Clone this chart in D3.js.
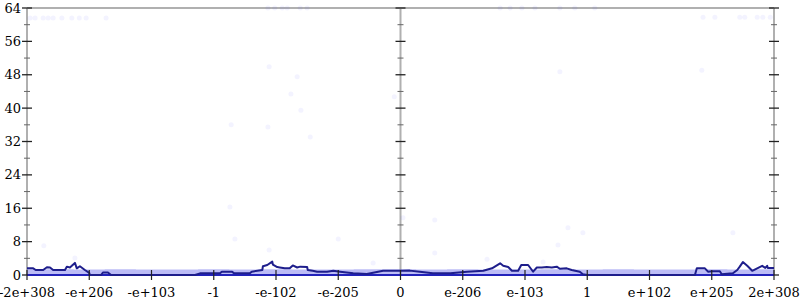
<!DOCTYPE html>
<html><head><meta charset="utf-8">
<script src="https://cdn.jsdelivr.net/npm/d3@7"></script>
<style>body{margin:0;background:#fff}svg{display:block}text{font-family:"DejaVu Serif",serif;font-size:13px;fill:#000}</style>
</head><body><svg id="c" width="800" height="300"></svg>
<script>
// x positions are in "tick units": -6 .. 6 (each unit one labelled tick)
const xTickValues = [-6,-5,-4,-3,-2,-1,0,1,2,3,4,5,6];
const xTickLabels = ["-2e+308","-e+206","-e+103","-1","-e-102","-e-205","0","e-206","e-103","1","e+102","e+205","2e+308"];
const yMajorTicks = [0,8,16,24,32,40,48,56,64];
const yMinorTicks = [4,12,20,28,36,44,52,60];
const yAxisPositions = [-6,0,6];

// main line series
const lineX = [-6.00,-5.90,-5.86,-5.74,-5.68,-5.63,-5.58,-5.39,-5.36,-5.31,-5.28,-5.23,-5.20,-5.15,-5.07,-5.00,-4.99,-4.81,-4.78,-4.70,-4.65,-3.30,-3.22,-2.90,-2.87,-2.71,-2.67,-2.42,-2.39,-2.22,-2.21,-2.14,-2.06,-2.05,-1.98,-1.94,-1.86,-1.78,-1.73,-1.66,-1.61,-1.50,-1.49,-1.41,-1.34,-1.18,-1.08,-0.97,-0.76,-0.54,-0.28,0.00,0.15,0.31,0.52,0.80,1.07,1.33,1.47,1.60,1.65,1.73,1.79,1.89,1.94,2.05,2.11,2.13,2.19,2.27,2.35,2.43,2.51,2.56,2.67,2.75,2.88,2.93,3.00,4.73,4.76,4.89,4.94,5.00,5.13,5.16,5.34,5.41,5.45,5.50,5.57,5.65,5.73,5.81,5.86,5.89,5.90,6.00];
const lineY = [1.6,1.6,1.2,1.2,1.85,1.8,1.2,1.2,2.0,1.8,2.2,2.9,1.6,2.1,1.2,0.5,0,0,0.6,0.6,0,0,0.4,0.4,0.8,0.8,0.4,0.4,0.8,1.2,2.1,2.4,3.2,2.5,1.9,1.8,1.6,1.6,2.3,1.8,2.0,1.9,1.2,1.0,0.8,0.8,1.0,0.8,0.4,0.25,1.0,1.0,1.05,0.8,0.4,0.4,0.8,1.0,1.6,2.8,2.2,1.9,1.0,1.0,2.4,2.4,1.2,0.8,1.8,1.8,1.9,1.8,2.0,1.5,1.6,1.2,0.8,0.2,0,0,1.6,1.6,0.8,0.9,0.9,0.2,0.4,1.2,2.0,3.1,2.2,1.0,1.6,2.2,1.7,2.2,1.7,1.7];

// lower series (sits on zero)
const lowX = [-6,-3,0,3,6];
const lowY = [0,0,0,0,0];

// dense band of low values
const bandX = [-6,-5.5,-5,-4.5,-4,-3.5,-3,-2.5,-2,-1.5,-1,-0.5,0,0.5,1,1.5,2,2.5,3,3.5,4,4.5,5,5.5,6];
const bandY = [1.4,1.4,1.3,1.4,1.3,1.3,1.4,1.3,1.4,1.3,1.3,1.4,1.4,1.3,1.4,1.3,1.3,1.4,1.3,1.4,1.3,1.3,1.4,1.3,1.4];

// sparse points
const ptX = [-5.95,-5.87,-5.74,-5.66,-5.58,-5.44,-5.28,-5.16,-5.05,-4.73,4.86,5.05,5.45,5.53,5.73,5.82,5.94,-2.13,-2.02,-1.90,-1.82,-1.61,-1.50,1.60,1.76,1.95,2.16,2.56,2.80,3.12,-2.11,-1.66,-1.76,-1.60,-2.72,-2.13,-1.45,-0.10,4.84,2.56,0.04,0.55,0.55,1.39,2.69,2.93,2.53,2.29,-2.74,-2.66,-2.11,-1.00,-0.44,-5.73,-5.23,5.34];
const ptY = [61.6,61.6,61.6,61.6,61.6,61.6,61.6,61.6,61.6,61.6,61.8,61.8,61.8,61.8,61.8,61.8,61.8,64,64,64,64,64,64,64,64,64,64,64,64,64,49.9,47.5,43.4,39.5,36.0,35.5,33.1,42.7,49.1,48.7,13.7,13.2,5.3,3.8,11.3,10.1,7.2,3.1,16.3,8.6,6.0,8.6,2.9,7.0,4.1,10.1];

const svg = d3.select("#c");
const L = 27, R = 774, T = 8, B = 275;
const x = d3.scaleLinear().domain([-6,6]).range([L,R]);
const y = d3.scaleLinear().domain([0,64]).range([B,T]);

// top frame line
svg.append("line").attr("x1",L).attr("x2",R).attr("y1",y(64)).attr("y2",y(64))
  .attr("stroke","#b0b0b0").attr("stroke-width",2);

// vertical axes (gray line + ticks)
yAxisPositions.forEach((p,i)=>{
  const g = svg.append("g").attr("transform",`translate(${x(p)},0)`);
  g.append("line").attr("y1",T).attr("y2",B).attr("stroke","#b0b0b0").attr("stroke-width",2);
  g.selectAll(".mj").data(yMajorTicks).join("line").attr("x1",-5).attr("x2",5)
    .attr("y1",d=>y(d)).attr("y2",d=>y(d)).attr("stroke","#222").attr("stroke-width",1.3);
  g.selectAll(".mn").data(yMinorTicks).join("line").attr("x1",-3).attr("x2",3)
    .attr("y1",d=>y(d)).attr("y2",d=>y(d)).attr("stroke","#666").attr("stroke-width",1);
  if(i===0){
    g.selectAll("text").data(yMajorTicks).join("text").attr("x",-6).attr("y",d=>y(d))
      .attr("dy","0.35em").attr("text-anchor","end").text(d=>d);
  }
});

// band
const band = bandX.map((v,i)=>[v,bandY[i]]);
svg.append("path").datum(band)
  .attr("d",d3.area().x(d=>x(d[0])).y0(y(0)).y1(d=>y(d[1])).curve(d3.curveStep))
  .attr("fill","#6a6aea").attr("fill-opacity",0.45);

// sparse points
svg.append("g").selectAll("circle").data(ptX.map((v,i)=>[v,ptY[i]])).join("circle")
  .attr("cx",d=>x(d[0])).attr("cy",d=>y(d[1])).attr("r",2.5)
  .attr("fill","#3333ff").attr("fill-opacity",0.06);

// lower line
svg.append("path").datum(lowX.map((v,i)=>[v,lowY[i]]))
  .attr("d",d3.line().x(d=>x(d[0])).y(d=>y(d[1])))
  .attr("fill","none").attr("stroke","#2222bb").attr("stroke-width",2.2);

// main line
svg.append("path").datum(lineX.map((v,i)=>[v,lineY[i]]))
  .attr("d",d3.line().x(d=>x(d[0])).y(d=>y(d[1])))
  .attr("fill","none").attr("stroke","#1e1e8c").attr("stroke-width",2).attr("stroke-linejoin","round");

// x ticks + labels
const gx = svg.append("g");
gx.selectAll("line").data(xTickValues).join("line")
  .attr("x1",d=>x(d)).attr("x2",d=>x(d)).attr("y1",B-5).attr("y2",B+5)
  .attr("stroke","#222").attr("stroke-width",1.2);
gx.selectAll("text").data(xTickValues).join("text")
  .attr("x",d=>x(d)).attr("y",292).attr("dy","0.35em").attr("text-anchor","middle")
  .text((d,i)=>xTickLabels[i]);
</script></body></html>
